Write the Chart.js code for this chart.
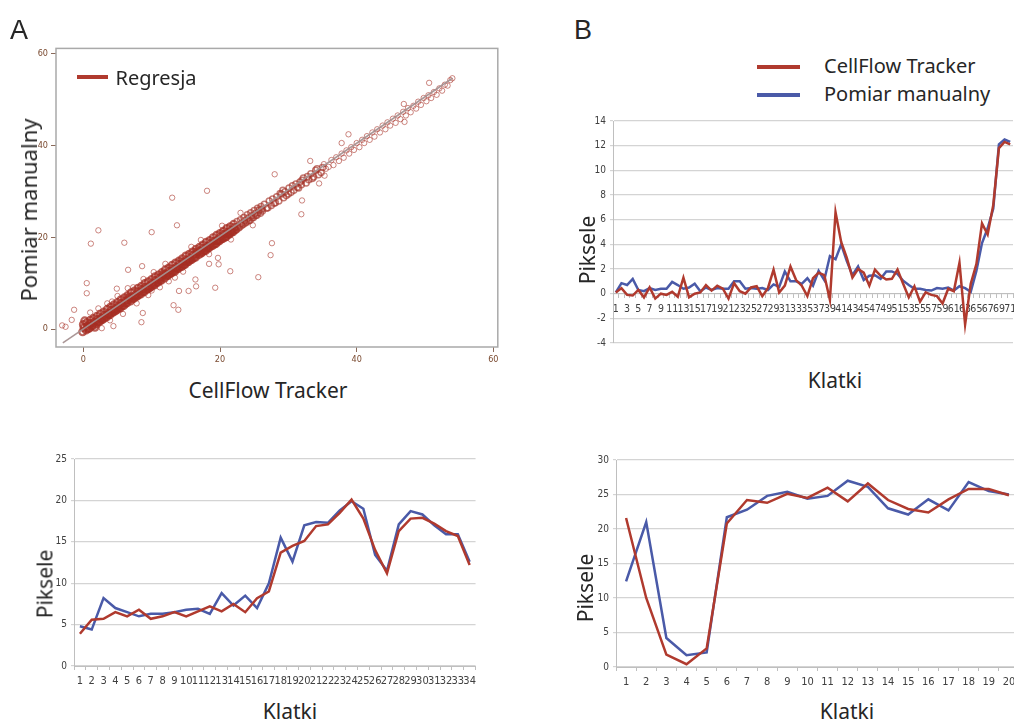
<!DOCTYPE html>
<html>
<head>
<meta charset="utf-8">
<script src="https://cdn.jsdelivr.net/npm/chart.js@4.4.1/dist/chart.umd.min.js"></script>
<style>
  body { margin: 0; background: #fff; }
  #page { position: relative; width: 1014px; height: 722px; overflow: hidden; background: #fff; font-family: 'Noto Sans', 'Open Sans', sans-serif; color: #262626; }
  canvas { position: absolute; }
  .txt { position: absolute; white-space: nowrap; line-height: 1; }
  .rot { transform: translate(-50%, -50%) rotate(-90deg); }
  .ctr { transform: translate(-50%, -50%); }
  .key { position: absolute; height: 4px; }
</style>
</head>
<body>
<div id="page">
  <canvas id="scatter" width="484" height="327" style="left:20px;top:40px"></canvas>
  <canvas id="frames-b" width="450" height="242" style="left:580px;top:111px"></canvas>
  <canvas id="frames-c" width="437" height="241" style="left:44px;top:449px"></canvas>
  <canvas id="frames-d" width="444" height="241" style="left:586px;top:450px"></canvas>

  <div class="txt" style="left:10px;top:17px;font-size:27px;font-family:'Liberation Sans',Arial,sans-serif">A</div>
  <div class="txt" style="left:574px;top:17px;font-size:27px;font-family:'Liberation Sans',Arial,sans-serif">B</div>

  <div class="key" style="left:77px;top:75px;width:31px;background:#b03a2e"></div>
  <div class="txt ctr" style="left:156px;top:78px;font-size:20px">Regresja</div>
  <div class="txt rot" style="left:28px;top:210px;font-size:22px">Pomiar manualny</div>
  <div class="txt ctr" style="left:268px;top:390px;font-size:21px">CellFlow Tracker</div>

  <div class="key" style="left:757px;top:65px;width:43px;background:#b03a2e"></div>
  <div class="key" style="left:757px;top:93px;width:43px;background:#4a5aa8"></div>
  <div class="txt" style="left:824px;top:56px;font-size:20px">CellFlow Tracker</div>
  <div class="txt" style="left:824px;top:84px;font-size:20px">Pomiar manualny</div>
  <div class="txt rot" style="left:587px;top:250px;font-size:21px">Piksele</div>
  <div class="txt ctr" style="left:835px;top:380px;font-size:21px">Klatki</div>

  <div class="txt rot" style="left:45px;top:584px;font-size:21px">Piksele</div>
  <div class="txt ctr" style="left:290px;top:711px;font-size:21px">Klatki</div>
  <div class="txt rot" style="left:585px;top:588px;font-size:21px">Piksele</div>
  <div class="txt ctr" style="left:847px;top:711px;font-size:21px">Klatki</div>
</div>

<script>
// ---- data ----
const scatterTicks = [0, 20, 40, 60];
const regressionLine = [[-3, -3], [54, 54.6]];

// CellFlow Tracker (x) vs manual (y): the dense band below ~22 px
const bandPairs = [
  [-0.1,-0.6],[0.1,0.3],[0.0,1.0],[0.2,1.8],[0.4,-0.2],[0.6,0.6],[0.5,1.4],[0.7,0.1],
  [0.9,0.2],[1.1,1.2],[1.0,1.9],[1.2,0.7],[1.4,0.8],[1.6,1.5],[1.5,2.3],[1.7,0.4],
  [1.9,1.1],[2.1,2.1],[2.0,2.8],[2.2,1.6],[2.4,1.7],[2.6,2.4],[2.5,3.3],[2.7,2.0],
  [2.9,2.2],[3.1,3.0],[3.0,3.7],[3.2,2.6],[3.4,2.6],[3.6,3.4],[3.5,4.3],[3.7,3.1],
  [3.9,3.1],[4.1,4.1],[4.0,4.8],[4.2,3.6],[4.4,3.7],[4.6,4.4],[4.5,5.3],[4.7,4.0],
  [4.9,4.2],[5.1,5.0],[5.0,5.8],[5.2,4.6],[5.4,4.6],[5.6,5.6],[5.5,6.4],[5.7,5.1],
  [5.9,5.1],[6.1,6.1],[6.0,6.8],[6.2,5.6],[6.4,5.7],[6.6,6.4],[6.5,7.3],[6.7,6.9],
  [6.9,6.1],[7.1,7.0],[7.0,7.9],[7.2,6.6],[7.4,6.7],[7.6,7.4],[7.5,8.3],[7.7,7.1],
  [7.9,7.2],[8.1,8.1],[8.0,8.9],[8.2,7.6],[8.4,7.6],[8.6,8.6],[8.5,9.3],[8.7,8.1],
  [8.9,8.1],[9.1,9.1],[9.0,9.9],[9.2,8.6],[9.4,8.7],[9.6,9.4],[9.5,10.3],[9.7,9.0],
  [9.9,9.2],[10.1,10.0],[10.0,10.8],[10.2,9.6],[10.4,9.6],[10.6,10.6],[10.5,11.4],[10.7,10.1],
  [10.9,10.2],[11.1,11.1],[11.0,11.8],[11.2,10.6],[11.4,10.6],[11.6,11.4],[11.5,12.3],[11.7,11.9],
  [11.9,11.1],[12.1,12.0],[12.0,12.9],[12.2,11.6],[12.4,11.7],[12.6,12.6],[12.5,13.3],[12.7,12.1],
  [12.9,12.2],[13.1,13.1],[13.0,13.9],[13.2,12.6],[13.4,12.6],[13.6,13.4],[13.5,14.4],[13.7,13.1],
  [13.9,13.2],[14.1,14.1],[14.0,14.8],[14.2,13.6],[14.4,13.6],[14.6,14.6],[14.5,15.3],[14.7,14.0],
  [14.9,14.1],[15.1,15.0],[15.0,15.9],[15.2,14.6],[15.4,14.7],[15.6,15.5],[15.5,16.3],[15.7,15.1],
  [15.9,15.2],[16.1,16.1],[16.0,16.8],[16.2,15.6],[16.4,15.6],[16.6,16.4],[16.5,17.4],[16.7,16.9],
  [16.9,16.2],[17.1,17.0],[17.0,17.8],[17.2,16.5],[17.4,16.7],[17.6,17.6],[17.5,18.3],[17.7,17.1],
  [17.9,17.1],[18.1,18.0],[18.0,18.9],[18.2,17.6],[18.4,17.7],[18.6,18.6],[18.5,19.3],[18.7,18.1],
  [18.9,18.2],[19.1,19.1],[19.0,19.9],[19.2,18.5],[19.4,18.6],[19.6,19.4],[19.5,20.4],[19.7,19.1],
  [19.9,19.2],[20.1,20.1],[20.0,20.8],[20.2,19.6],[20.4,19.7],[20.6,20.6],[20.5,21.3],[20.7,20.0],
  [20.9,20.1],[21.1,21.0],[21.0,21.9],[21.2,20.6],[21.4,20.7],[21.6,21.5],[21.5,22.3],[21.7,21.1],
  [21.9,21.2],[22.1,22.1],[22.0,22.8],[22.2,21.6]
];
// thinning band, ~22 to ~35 px
const midPairs = [
  [22.4,21.6],[22.6,22.4],[22.5,23.4],[22.7,22.0],[22.9,22.2],[23.1,23.0],[23.0,23.8],[23.2,22.6],
  [23.4,22.8],[23.6,23.6],[23.5,24.3],[23.7,23.1],[23.9,23.3],[24.1,24.1],[24.0,24.9],[24.2,23.6],
  [24.4,23.7],[24.6,24.6],[24.5,25.3],[24.7,24.2],[24.9,24.3],[25.1,25.1],[25.0,25.8],[25.2,24.7],
  [25.4,24.8],[25.6,25.4],[25.5,26.3],[25.7,25.9],[25.9,25.2],[26.1,26.1],[26.0,26.7],[26.2,25.7],
  [26.5,27.2],[26.8,26.3],[27.0,26.4],[27.2,27.9],[27.5,26.9],[27.7,28.3],[27.9,27.4],[28.1,27.5],
  [28.3,28.8],[28.6,27.9],[28.8,29.5],[29.0,29.4],[29.2,30.2],[29.3,28.6],[29.5,29.9],[29.7,29.1],
  [30.0,29.4],[30.1,30.7],[30.4,29.8],[30.6,31.2],[30.8,30.2],[31.1,31.6],[31.3,30.9],[31.5,30.7],
  [31.7,32.0],[31.9,31.4],[32.0,32.4],[32.2,32.9],[32.6,31.8],[32.8,33.2],[33.0,32.5],[33.3,33.8],
  [33.5,32.8],[33.7,33.1],[34.0,34.6],[34.2,34.9],[34.4,33.6],[34.8,34.1],[35.0,35.2]
];
// sparse points along the line above ~35 px, plus outliers
const spreadPairs = [
  [35.2,35.9],[35.5,34.9],[35.9,35.3],[36.3,36.8],[36.6,35.7],[37.0,37.4],[37.4,36.6],[37.8,38.2],
  [38.1,37.3],[38.5,38.9],[38.9,38.2],[39.2,39.6],[39.6,39.0],[40.0,40.5],[40.4,39.6],[40.8,41.2],
  [41.1,40.5],[41.5,42.0],[41.9,41.2],[42.3,42.8],[42.6,41.9],[43.0,43.5],[43.4,42.8],[43.8,44.3],
  [44.2,43.5],[44.5,45.0],[44.9,44.3],[45.3,45.8],[45.7,44.9],[46.0,46.5],[46.4,45.7],[46.8,47.3],
  [47.2,46.5],[47.5,48.1],[47.9,47.2],[48.3,48.6],[48.7,48.0],[49.0,49.5],[49.4,48.8],[49.8,50.3],
  [50.2,49.6],[50.5,50.9],[50.9,50.3],[51.3,51.6],[51.7,51.0],[52.1,52.4],[52.5,51.9],[52.9,53.2],
  [53.3,53.0],[53.7,54.2],[54.0,54.6],
  [3.5,5.6],[4.2,6.0],[5.0,7.2],[6.5,8.9],[7.3,9.1],[5.8,3.3],[7.8,5.6],[9.5,7.4],[11.2,9.1],
  [12.5,10.4],[10.3,12.4],[12.0,14.2],[14.6,12.5],[15.8,17.9],[17.2,19.4],[18.4,16.3],[20.3,22.5],
  [21.6,19.5],[23.0,25.3],[24.8,22.6],[2.2,4.5],[1.0,3.6],[2.7,0.2],[3.9,1.9],[8.8,10.9],[13.4,11.2],
  [-3.1,0.8],[-2.6,0.5],[0.5,10.0],[0.5,7.8],[1.1,18.6],[2.2,21.5],[6.0,18.8],[10.0,21.1],
  [13.0,28.6],[18.1,30.1],[13.7,22.6],[28.0,33.7],[32.0,28.0],[31.9,25.0],[27.6,18.7],[27.4,16.1],
  [25.6,11.3],[21.5,12.6],[19.8,14.1],[19.7,15.5],[18.4,14.2],[19.3,9.0],[16.5,9.3],[15.4,8.3],
  [14.0,8.3],[13.2,5.2],[13.9,4.2],[8.5,1.5],[8.7,3.5],[4.4,0.65],[6.55,12.9],[8.6,13.7],
  [4.9,8.8],[-1.35,4.2],[-1.7,2.0],[50.6,53.6],[38.8,42.4],[37.8,40.5],[47.0,45.1],[34.5,31.7],
  [35.3,33.4],[33.2,36.6],[46.9,49.0],[16.4,10.8],[11.2,10.6],[10.0,8.4]
];

// panel B, upper: 71 frames
const framesB = [1,2,3,4,5,6,7,8,9,10,11,12,13,14,15,16,17,18,19,20,21,22,23,24,25,26,27,28,29,30,
  31,32,33,34,35,36,37,38,39,40,41,42,43,44,45,46,47,48,49,50,51,52,53,54,55,56,57,58,59,60,
  61,62,63,64,65,66,67,68,69,70,71];
const trackerB = [0.1,0.45,-0.1,-0.15,0.3,-0.3,0.5,-0.4,0,-0.1,
  0.15,-0.25,1.3,-0.3,0,0.1,0.7,0.25,0.65,0.4,
  -0.4,0.85,0.2,0,0.5,0.6,-0.2,0.45,1.95,0.1,
  0.65,2.2,1.1,0.65,-0.2,1.25,1.7,1.5,-0.5,6.6,
  4.2,2.9,1.3,2.0,1.7,0.65,1.95,1.45,1.15,1.2,
  1.95,0.8,-0.3,0.6,-0.65,0.1,-0.1,-0.2,-0.8,0.4,
  0.2,2.5,-2.5,0.8,2.4,5.7,4.8,7.2,11.8,12.3,12.1];
const manualB = [0.1,0.85,0.7,1.2,0.3,0.2,0.45,0.3,0.4,0.4,
  0.95,0.7,0.4,0.5,0.8,0.2,0.5,0.3,0.45,0.4,
  0.4,1.0,1.0,0.4,0.45,0.4,0.45,0.3,0.75,0.55,
  1.8,1.0,1.0,0.8,1.25,0.65,1.85,1.1,3.05,2.8,
  4.0,2.65,1.5,2.2,1.1,1.45,1.5,1.2,1.8,1.8,
  1.6,1.05,0.7,0.4,0.4,0.3,0.25,0.45,0.4,0.5,
  0.25,0.6,0.45,0.15,1.85,4.1,5.3,6.9,12.1,12.5,12.3];

// lower left: 34 frames
const framesC = [1,2,3,4,5,6,7,8,9,10,11,12,13,14,15,16,17,18,19,20,21,22,23,24,25,26,27,28,29,30,31,32,33,34];
const trackerC = [3.9,5.6,5.7,6.5,6.0,6.8,5.7,6.0,6.5,6.0,6.6,7.2,6.6,7.5,6.5,8.2,9.0,
  13.7,14.5,15.1,16.9,17.1,18.5,20.1,17.8,14.0,11.2,16.3,17.8,17.9,17.2,16.3,15.7,12.2];
const manualC = [4.8,4.4,8.2,7.0,6.5,6.0,6.3,6.3,6.5,6.8,6.9,6.3,8.8,7.3,8.5,7.0,10.0,
  15.5,12.6,17.0,17.4,17.3,18.8,19.9,19.0,13.4,11.5,17.1,18.7,18.3,17.0,15.9,15.9,12.6];

// lower right: 20 frames
const framesD = [1,2,3,4,5,6,7,8,9,10,11,12,13,14,15,16,17,18,19,20];
const trackerD = [21.6,10.0,1.8,0.4,2.7,20.8,24.2,23.8,25.1,24.5,26.0,24.0,26.6,24.2,22.9,22.4,24.3,25.8,25.8,24.9];
const manualD = [12.4,21.0,4.2,1.7,2.1,21.7,22.8,24.8,25.4,24.4,24.8,27.0,26.1,23.0,22.1,24.3,22.7,26.8,25.5,25.0];

const RED = '#b03a2e';
const BLUE = '#4a5aa8';
const TICK_FONT = "'Liberation Sans Narrow', 'DejaVu Sans Condensed', 'Liberation Sans', sans-serif";

// box round the scatter plot area
const framePlugin = {
  id: 'frame',
  afterDraw(chart) {
    const a = chart.chartArea;
    const ctx = chart.ctx;
    ctx.save();
    ctx.strokeStyle = '#a9a9a9';
    ctx.lineWidth = 1.5;
    ctx.strokeRect(a.left, a.top, a.right - a.left, a.bottom - a.top);
    ctx.restore();
  }
};

function ring(pairs, radius, width, color) {
  return {
    data: pairs.map(([x, y]) => ({ x, y })),
    pointRadius: radius,
    borderWidth: width,
    backgroundColor: 'rgba(0,0,0,0)',
    borderColor: color
  };
}

function initScatter() {
  new Chart(document.getElementById('scatter'), {
    type: 'scatter',
    data: {
      datasets: [{
        type: 'line',
        data: regressionLine.map(([x, y]) => ({ x, y })),
        borderColor: 'rgba(165,145,145,0.95)',
        borderWidth: 1.6,
        pointRadius: 0
      },
        ring(bandPairs, 3.4, 2.2, 'rgba(165,45,35,0.75)'),
        ring(midPairs, 3.0, 1.5, 'rgba(165,50,40,0.65)'),
        ring(spreadPairs, 2.7, 1, 'rgba(170,55,45,0.6)')
      ]
    },
    options: {
      responsive: false,
      animation: false,
      layout: { padding: { top: 8, right: 4, left: 0, bottom: 0 } },
      plugins: { legend: { display: false }, tooltip: { enabled: false } },
      scales: {
        x: {
          type: 'linear', min: -4, max: 60.65,
          afterBuildTicks: s => { s.ticks = scatterTicks.map(v => ({ value: v })); },
          afterFit: s => { s.height = 20; },
          grid: { drawOnChartArea: false, tickLength: 5, color: '#8a6a5a' },
          border: { display: false },
          ticks: { font: { size: 9, family: TICK_FONT }, color: '#7a4a30', padding: 2 }
        },
        y: {
          type: 'linear', min: -3.9, max: 61.1,
          afterBuildTicks: s => { s.ticks = scatterTicks.map(v => ({ value: v })); },
          afterFit: s => { s.width = 36; },
          grid: { drawOnChartArea: false, tickLength: 5, color: '#8a6a5a' },
          border: { display: false },
          ticks: { font: { size: 9, family: TICK_FONT }, color: '#7a4a30', padding: 3 }
        }
      }
    },
    plugins: [framePlugin]
  });
}

// Excel-style line chart with two series
function lineChart(id, labels, tracker, manual, cfg) {
  const xScale = {
    type: 'category',
    offset: true,
    afterFit: s => { s.height = cfg.xHeight; },
    grid: { offset: true, drawOnChartArea: false, tickLength: 4, color: '#bfbfbf' },
    border: { color: '#bfbfbf' },
    ticks: {
      autoSkip: false, maxRotation: 0, minRotation: 0, padding: cfg.xPad,
      font: { size: cfg.xFont, family: TICK_FONT }, color: '#404040',
      callback: (v, i) => (i % cfg.every === 0 ? labels[i] : '')
    }
  };
  if (cfg.xAtZero) xScale.position = { y: 0 };
  new Chart(document.getElementById(id), {
    type: 'line',
    data: {
      labels,
      datasets: [
        { data: tracker, borderColor: RED, borderWidth: 2.5, pointRadius: 0, tension: 0 },
        { data: manual, borderColor: BLUE, borderWidth: 2.5, pointRadius: 0, tension: 0 }
      ]
    },
    options: {
      responsive: false,
      animation: false,
      layout: { padding: cfg.padding },
      plugins: { legend: { display: false }, tooltip: { enabled: false } },
      scales: {
        x: xScale,
        y: {
          min: cfg.yMin, max: cfg.yMax,
          afterFit: s => { s.width = cfg.yWidth; },
          grid: { color: '#d4d4d4', lineWidth: 1.2, tickLength: 3 },
          border: { color: '#bfbfbf' },
          ticks: { stepSize: cfg.step, padding: 4, font: { size: 10, family: TICK_FONT }, color: '#404040' }
        }
      }
    }
  });
}

window.addEventListener('DOMContentLoaded', () => {
  initScatter();
  lineChart('frames-b', framesB, trackerB, manualB, {
    yMin: -4, yMax: 14, step: 2, yWidth: 33, xHeight: 4, xPad: 5, xFont: 10.5, every: 2, xAtZero: true,
    padding: { top: 10, right: 17, left: 0, bottom: 2 }
  });
  lineChart('frames-c', framesC, trackerC, manualC, {
    yMin: 0, yMax: 25, step: 5, yWidth: 30, xHeight: 24, xPad: 5, xFont: 11, every: 1,
    padding: { top: 8, right: 4, left: 0, bottom: 0 }
  });
  lineChart('frames-d', framesD, trackerD, manualD, {
    yMin: 0, yMax: 30, step: 5, yWidth: 30, xHeight: 24, xPad: 5, xFont: 11, every: 1,
    padding: { top: 8, right: 11, left: 0, bottom: 0 }
  });
});
</script>
</body>
</html>
